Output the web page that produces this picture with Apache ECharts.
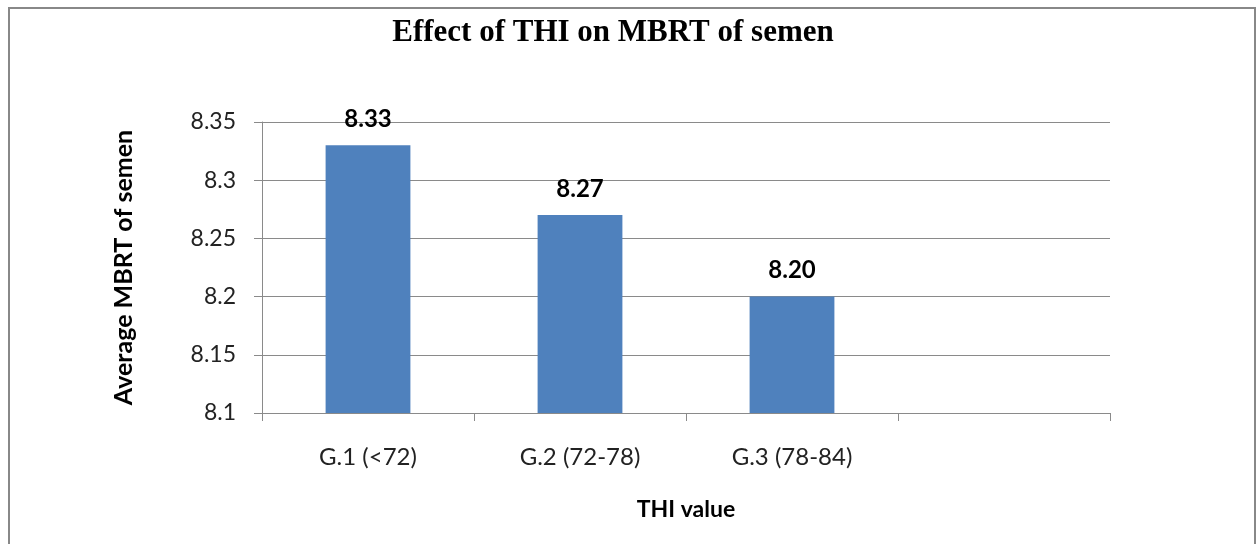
<!DOCTYPE html>
<html>
<head>
<meta charset="utf-8">
<script src="https://cdn.jsdelivr.net/npm/echarts@6/dist/echarts.min.js"></script>
<style>
  html, body { margin: 0; padding: 0; background: #fff; }
  #chart { width: 1257px; height: 544px; }
</style>
</head>
<body>
<div id="chart"></div>
<script>
// data
var categories = ['G.1 (<72)', 'G.2 (72-78)', 'G.3 (78-84)', ''];
var mbrtValues = [8.33, 8.27, 8.20, '-'];
var yTicks = { min: 8.1, max: 8.35, step: 0.05 };

var axisGray = '#8a8a8a';
var sans = 'Lato, "Open Sans", sans-serif';

var mychart = echarts.init(document.getElementById('chart'));
mychart.setOption({
  animation: false,
  title: {
    text: 'Effect of THI on MBRT of semen',
    left: 608,
    textAlign: 'center',
    top: 12,
    textStyle: {
      fontFamily: '"Liberation Serif", "Times New Roman", serif',
      fontWeight: 'bold',
      fontSize: 31,
      color: '#000'
    }
  },
  graphic: [{
    type: 'rect',
    shape: { x: 9, y: 8, width: 1246, height: 545 },
    style: { fill: 'none', stroke: '#888', lineWidth: 2 },
    silent: true
  }],
  grid: {
    left: 262,
    right: 147,
    top: 122,
    bottom: 131
  },
  xAxis: {
    type: 'category',
    data: categories,
    name: 'THI value',
    nameLocation: 'middle',
    nameGap: 85,
    nameTextStyle: { fontFamily: sans, fontWeight: 'bold', fontSize: 23, color: '#000' },
    axisLine: { lineStyle: { color: axisGray, width: 1 } },
    axisTick: { show: true, length: 8, lineStyle: { color: axisGray } },
    axisLabel: { margin: 32, fontFamily: sans, fontSize: 24, color: '#222' }
  },
  yAxis: {
    type: 'value',
    min: yTicks.min,
    max: yTicks.max,
    interval: yTicks.step,
    name: 'Average MBRT of semen',
    nameLocation: 'middle',
    nameGap: 126,
    nameTextStyle: { fontFamily: sans, fontWeight: 'bold', fontSize: 25, color: '#000' },
    axisLine: { show: true, lineStyle: { color: axisGray, width: 1 } },
    axisTick: { show: true, length: 8, lineStyle: { color: axisGray } },
    axisLabel: {
      margin: 26,
      fontFamily: sans,
      fontSize: 23,
      color: '#222',
      formatter: function (v) { return String(+v.toFixed(2)); }
    },
    splitLine: { lineStyle: { color: axisGray, width: 1 } }
  },
  series: [{
    name: 'MBRT',
    type: 'bar',
    data: mbrtValues,
    barWidth: '40%',
    itemStyle: { color: '#4f81bd' },
    label: {
      show: true,
      position: 'top',
      distance: 14,
      fontFamily: sans,
      fontWeight: 'bold',
      fontSize: 24,
      color: '#000',
      formatter: function (p) { return Number(p.value).toFixed(2); }
    }
  }]
});
</script>
</body>
</html>
